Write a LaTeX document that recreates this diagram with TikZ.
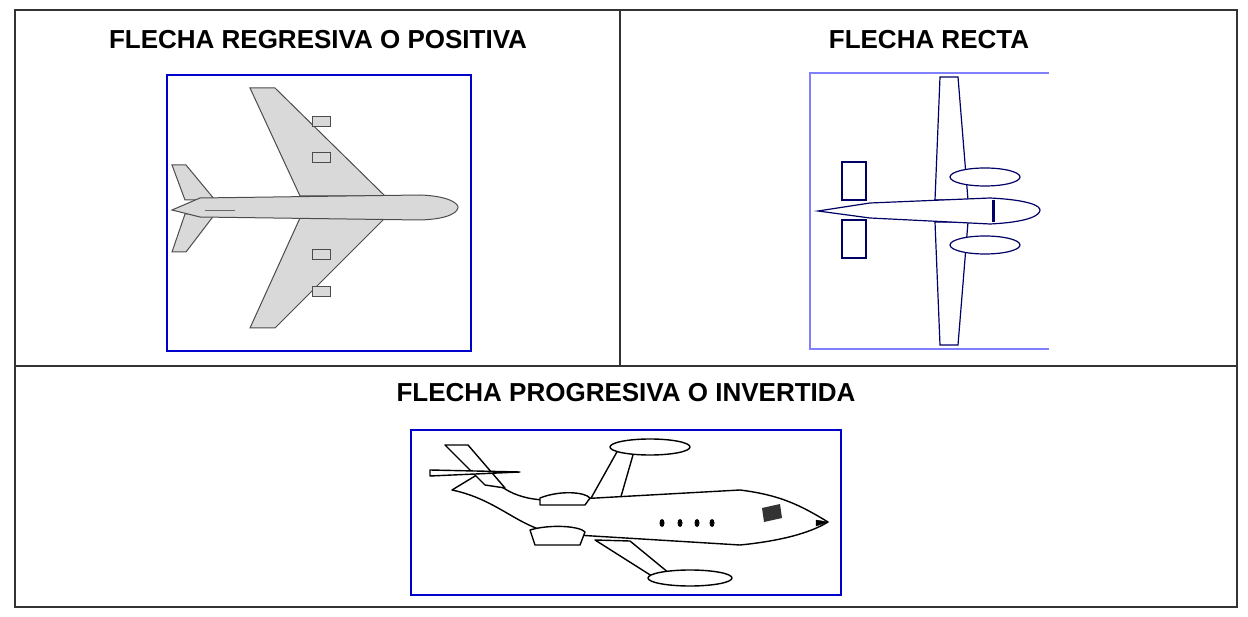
\documentclass[tikz,border=0pt]{standalone}
\usepackage{fontspec}
\setmainfont{Liberation Sans}
\begin{document}
\begin{tikzpicture}[x=1pt,y=-1pt,
  title/.style={font=\bfseries\fontsize{26}{30}\selectfont},
  frame/.style={draw=blue!80!black,line width=2pt},
  plane/.style={draw=black!70,fill=black!15,line width=1pt},
  bplane/.style={draw=blue!40!black,fill=white,line width=1.2pt},
  splane/.style={draw=black,fill=white,line width=1.4pt,line join=round}]
\useasboundingbox (0,0) rectangle (1248,617);
\draw[black!80,line width=1.5pt] (15,10) rectangle (1237,607);
\draw[black!80,line width=1.5pt] (620,10) -- (620,366);
\draw[black!80,line width=1.5pt] (15,366) -- (1237,366);
\node[title] (t1) at (318,40) {FLECHA REGRESIVA O POSITIVA};
\node[title] (t2) at (929,40) {FLECHA RECTA};
\node[title] (t3) at (626,393) {FLECHA PROGRESIVA O INVERTIDA};
% frames
\draw[frame] (167,75) rectangle (471,351);
\draw[draw=blue!50,line width=2pt] (1049,73) -- (810,73) -- (810,349) -- (1049,349);
\draw[frame] (411,430) rectangle (841,595);
% plane 1
\draw[plane] (300,196) -- (250,88) -- (275,88) -- (385,196) -- cycle;
\draw[plane] (300,218) -- (250,328) -- (275,328) -- (385,218) -- cycle;
\foreach \y in {122,158,255,292}{\draw[plane] (312,\y-5) rectangle (330,\y+5);}
\draw[plane] (185,200) -- (172,165) -- (186,165) -- (215,200) -- cycle;
\draw[plane] (185,214) -- (172,252) -- (186,252) -- (215,214) -- cycle;
\draw[plane] (172,210) -- (200,198) -- (420,195) .. controls (450,196) and (458,204) .. (458,207)
  .. controls (458,212) and (450,219) .. (420,220) -- (200,217) -- cycle;
\draw[black!60] (205,210) -- (235,210);
% plane 2
\draw[bplane] (935,200) -- (940,77) -- (958,77) -- (968,200) -- cycle;
\draw[bplane] (935,222) -- (940,345) -- (958,345) -- (968,222) -- cycle;
\draw[bplane] (842,200) -- (842,162) -- (866,162) -- (866,200) -- cycle;
\draw[bplane] (842,220) -- (842,258) -- (866,258) -- (866,220) -- cycle;
\draw[bplane] (818,211) -- (870,203) -- (990,198) .. controls (1030,200) and (1040,206) .. (1040,210)
  .. controls (1040,215) and (1030,222) .. (990,224) -- (870,218) -- cycle;
\draw[bplane] (985,177) ellipse (35 and 9);
\draw[bplane] (985,245) ellipse (35 and 9);
\draw[blue!40!black,line width=3pt] (993,200) -- (993,222);
% plane 3
\draw[splane] (590,500) -- (618,450) -- (635,448) -- (620,500) -- cycle;
\draw[splane] (650,447) ellipse (40 and 8);
\draw[splane] (452,490) .. controls (500,500) and (520,530) .. (560,534) -- (740,545)
  .. controls (790,540) and (815,530) .. (828,522)
  .. controls (800,505) and (780,495) .. (740,490) -- (560,500)
  .. controls (520,502) and (500,490) .. (485,470) -- cycle;
\draw[splane] (485,485) -- (445,445) -- (468,445) -- (505,488) -- cycle;
\draw[splane] (430,470) -- (520,472) -- (430,476) -- cycle;
\draw[splane] (540,498) .. controls (560,490) and (585,492) .. (590,498) -- (585,505) -- (540,505) -- cycle;
\draw[splane] (530,530) .. controls (550,524) and (580,526) .. (585,532) -- (580,545) -- (535,545) -- cycle;
\draw[splane] (595,540) -- (655,578) -- (675,578) -- (630,541) -- cycle;
\draw[splane] (690,578) ellipse (42 and 8);
\draw[fill=black] (816,520) -- (828,522) -- (816,526) -- cycle;
\foreach \x in {662,680,697,712}{\fill (\x,523) ellipse (2.5 and 4);}
\fill[black!80] (762,508) -- (780,504) -- (782,518) -- (764,522) -- cycle;
\end{tikzpicture}
\end{document}
